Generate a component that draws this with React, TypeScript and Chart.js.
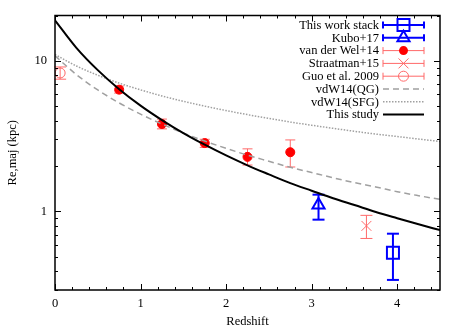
import React, { useEffect, useRef } from 'react';
import { Chart, registerables } from 'chart.js';

Chart.register(...registerables);

// Smooth model curves at fixed redshift steps
const curveZ = [0, 0.25, 0.5, 0.75, 1, 1.25, 1.5, 1.75, 2, 2.25, 2.5, 2.75, 3, 3.25, 3.5, 3.75, 4, 4.25, 4.5];
const thisStudyR = [18.6, 12.2, 8.67, 6.48, 5.04, 4.04, 3.31, 2.77, 2.35, 2.02, 1.76, 1.54, 1.37, 1.22, 1.1, 0.99, 0.9, 0.82, 0.75];
const vdwQGR = [10.8, 8.1, 6.4, 5.25, 4.42, 3.8, 3.31, 2.93, 2.62, 2.36, 2.15, 1.96, 1.81, 1.67, 1.55, 1.45, 1.35, 1.27, 1.2];
const vdwSFGR = [11.0, 9.24, 8.02, 7.11, 6.41, 5.84, 5.38, 5.0, 4.67, 4.39, 4.14, 3.92, 3.73, 3.56, 3.4, 3.26, 3.14, 3.02, 2.91];

// Measurements
const stackZ = [3.95];
const stackR = [0.53];
const stackLo = [0.35];
const stackHi = [0.71];

const kuboZ = [3.08];
const kuboR = [1.1];
const kuboLo = [0.88];
const kuboHi = [1.29];

const vdwZ = [0.75, 1.25, 1.75, 2.25, 2.75];
const vdwR = [6.43, 3.8, 2.84, 2.3, 2.47];
const vdwLo = [6.1, 3.53, 2.66, 2.03, 1.97];
const vdwHi = [6.8, 4.1, 3.01, 2.6, 2.98];

const straZ = [3.64];
const straR = [0.8];
const straLo = [0.66];
const straHi = [0.94];

const guoZ = [0.06];
const guoR = [8.3];
const guoLo = [7.55];
const guoHi = [9.1];

const xTickValues = [0, 1, 2, 3, 4];
const yTickValues = [1, 10];
const yMinorValues = [0.3, 0.4, 0.5, 0.6, 0.7, 0.8, 0.9, 2, 3, 4, 5, 6, 7, 8, 9, 20];

const legendLabels = [
  'This work stack',
  'Kubo+17',
  'van der Wel+14',
  'Straatman+15',
  'Guo et al. 2009',
  'vdW14(QG)',
  'vdW14(SFG)',
  'This study',
];

const BLUE = '#0000ff';
const RED = '#ff0000';
const SALMON = 'rgb(255,105,105)';
const GRAY = '#a0a0a0';
const FONT = '"Liberation Serif", "DejaVu Serif", serif';

const zip = (xs: number[], ys: number[]) => xs.map((x, i) => ({ x, y: ys[i] }));

const line = (ctx: CanvasRenderingContext2D, x1: number, y1: number, x2: number, y2: number) => {
  ctx.beginPath();
  ctx.moveTo(x1, y1);
  ctx.lineTo(x2, y2);
  ctx.stroke();
};

const drawMarker = (ctx: CanvasRenderingContext2D, kind: string, x: number, y: number) => {
  ctx.beginPath();
  if (kind === 'square') {
    ctx.strokeStyle = BLUE;
    ctx.lineWidth = 2;
    ctx.strokeRect(x - 6, y - 6, 12, 12);
  } else if (kind === 'triangle') {
    ctx.strokeStyle = BLUE;
    ctx.lineWidth = 2;
    const r = 7;
    ctx.moveTo(x, y - r);
    ctx.lineTo(x + r * 0.866, y + r / 2);
    ctx.lineTo(x - r * 0.866, y + r / 2);
    ctx.closePath();
    ctx.stroke();
  } else if (kind === 'dot') {
    ctx.fillStyle = RED;
    ctx.arc(x, y, 4.5, 0, Math.PI * 2);
    ctx.fill();
  } else if (kind === 'cross') {
    ctx.strokeStyle = SALMON;
    ctx.lineWidth = 1;
    line(ctx, x - 5, y - 5, x + 5, y + 5);
    line(ctx, x - 5, y + 5, x + 5, y - 5);
  } else if (kind === 'ocircle') {
    ctx.strokeStyle = SALMON;
    ctx.lineWidth = 1;
    ctx.arc(x, y, 5, 0, Math.PI * 2);
    ctx.stroke();
  }
};

const framePlugin = {
  id: 'gnuFrame',
  beforeDatasetsDraw(chart: any) {
    const ctx: CanvasRenderingContext2D = chart.ctx;
    const xs = chart.scales.x;
    const ys = chart.scales.y;
    ctx.save();
    chart.data.datasets.forEach((ds: any) => {
      if (!ds.errLo) return;
      ctx.strokeStyle = ds.errColor;
      ctx.lineWidth = ds.errWidth;
      ds.data.forEach((p: any, i: number) => {
        const px = xs.getPixelForValue(p.x);
        const pLo = ys.getPixelForValue(ds.errLo[i]);
        const pHi = ys.getPixelForValue(ds.errHi[i]);
        line(ctx, px, pLo, px, pHi);
        line(ctx, px - ds.capHalf, pLo, px + ds.capHalf, pLo);
        line(ctx, px - ds.capHalf, pHi, px + ds.capHalf, pHi);
      });
    });
    ctx.restore();
  },
  afterDraw(chart: any) {
    const ctx: CanvasRenderingContext2D = chart.ctx;
    const { left, right, top, bottom } = chart.chartArea;
    const xs = chart.scales.x;
    const ys = chart.scales.y;
    ctx.save();
    ctx.strokeStyle = '#000';
    ctx.lineWidth = 1;
    // ticks (inward, mirrored)
    for (let i = 0; i <= 22; i++) {
      const v = i * 0.2;
      if (v > 4.5 + 1e-9) break;
      const px = Math.round(xs.getPixelForValue(v)) + 0.5;
      const major = Math.abs(v - Math.round(v)) < 1e-6;
      const len = major ? 6 : 3;
      line(ctx, px, bottom, px, bottom - len);
      line(ctx, px, top, px, top + len);
    }
    const yAll = [...yTickValues.map((v) => [v, 6]), ...yMinorValues.map((v) => [v, 3])];
    yAll.forEach(([v, len]) => {
      const py = Math.round(ys.getPixelForValue(v)) + 0.5;
      line(ctx, left, py, left + len, py);
      line(ctx, right, py, right - len, py);
    });
    // border
    ctx.lineWidth = 1.5;
    ctx.strokeRect(left, top, right - left, bottom - top);

    // axis titles
    ctx.fillStyle = '#000';
    ctx.font = `12.5px ${FONT}`;
    ctx.textAlign = 'center';
    ctx.textBaseline = 'middle';
    ctx.fillText('Redshift', (left + right) / 2, 322);
    ctx.save();
    ctx.translate(13, (top + bottom) / 2);
    ctx.rotate(-Math.PI / 2);
    ctx.fillText('Re,maj (kpc)', 0, 0);
    ctx.restore();

    // legend
    const textRight = 379;
    const s1 = 383;
    const s2 = 424;
    const mid = (s1 + s2) / 2;
    const kinds = ['square', 'triangle', 'dot', 'cross', 'ocircle', 'dash', 'dot2', 'solid'];
    legendLabels.forEach((label, i) => {
      const y = 25 + i * 12.8;
      ctx.fillStyle = '#000';
      ctx.textAlign = 'right';
      ctx.textBaseline = 'middle';
      ctx.fillText(label, textRight, y + 0.5);
      const k = kinds[i];
      ctx.setLineDash([]);
      if (i < 5) {
        const c = i < 2 ? BLUE : SALMON;
        ctx.strokeStyle = c;
        ctx.lineWidth = i < 2 ? 2 : 1;
        line(ctx, s1, y, s2, y);
        line(ctx, s1, y - 3.5, s1, y + 3.5);
        line(ctx, s2, y - 3.5, s2, y + 3.5);
        drawMarker(ctx, k, mid, y);
      } else {
        ctx.beginPath();
        if (k === 'dash') {
          ctx.strokeStyle = GRAY;
          ctx.lineWidth = 1.5;
          ctx.setLineDash([6, 4]);
        } else if (k === 'dot2') {
          ctx.strokeStyle = GRAY;
          ctx.lineWidth = 1.5;
          ctx.setLineDash([1.5, 1.5]);
        } else {
          ctx.strokeStyle = '#000';
          ctx.lineWidth = 2;
        }
        line(ctx, s1, y, s2, y);
        ctx.setLineDash([]);
      }
    });
    ctx.restore();
  },
};

export default function App() {
  const canvasRef = useRef<HTMLCanvasElement | null>(null);

  useEffect(() => {
    const canvas = canvasRef.current;
    if (!canvas) return;
    const errExtra = (lo: number[], hi: number[], color: string, width: number, cap: number) => ({
      errLo: lo,
      errHi: hi,
      errColor: color,
      errWidth: width,
      capHalf: cap,
    });
    const chart = new Chart(canvas, {
      type: 'scatter',
      data: {
        datasets: [
          {
            label: 'This study',
            data: zip(curveZ, thisStudyR),
            showLine: true,
            borderColor: '#000',
            borderWidth: 2,
            pointRadius: 0,
            cubicInterpolationMode: 'monotone',
          },
          {
            label: 'vdW14(SFG)',
            data: zip(curveZ, vdwSFGR),
            showLine: true,
            borderColor: GRAY,
            borderWidth: 1.5,
            borderDash: [1.5, 1.5],
            pointRadius: 0,
            cubicInterpolationMode: 'monotone',
          },
          {
            label: 'vdW14(QG)',
            data: zip(curveZ, vdwQGR),
            showLine: true,
            borderColor: GRAY,
            borderWidth: 1.5,
            borderDash: [6, 4],
            pointRadius: 0,
            cubicInterpolationMode: 'monotone',
          },
          {
            label: 'This work stack',
            data: zip(stackZ, stackR),
            pointStyle: 'rect',
            pointRadius: 8.5,
            borderColor: BLUE,
            backgroundColor: 'rgba(0,0,0,0)',
            borderWidth: 2,
            ...errExtra(stackLo, stackHi, BLUE, 2, 6),
          },
          {
            label: 'Kubo+17',
            data: zip(kuboZ, kuboR),
            pointStyle: 'triangle',
            pointRadius: 7,
            borderColor: BLUE,
            backgroundColor: 'rgba(0,0,0,0)',
            borderWidth: 2,
            ...errExtra(kuboLo, kuboHi, BLUE, 2, 6),
          },
          {
            label: 'van der Wel+14',
            data: zip(vdwZ, vdwR),
            pointStyle: 'circle',
            pointRadius: 4.5,
            borderColor: RED,
            backgroundColor: RED,
            borderWidth: 1,
            ...errExtra(vdwLo, vdwHi, SALMON, 1, 5),
          },
          {
            label: 'Straatman+15',
            data: zip(straZ, straR),
            pointStyle: 'crossRot',
            pointRadius: 7,
            borderColor: SALMON,
            backgroundColor: SALMON,
            borderWidth: 1,
            ...errExtra(straLo, straHi, SALMON, 1, 6),
          },
          {
            label: 'Guo et al. 2009',
            data: zip(guoZ, guoR),
            pointStyle: 'circle',
            pointRadius: 5,
            borderColor: SALMON,
            backgroundColor: 'rgba(0,0,0,0)',
            borderWidth: 1,
            ...errExtra(guoLo, guoHi, SALMON, 1, 6),
          },
        ] as any,
      },
      options: {
        animation: false,
        responsive: false,
        maintainAspectRatio: false,
        layout: { padding: { left: 0, top: 13, right: 23, bottom: 0 } },
        plugins: {
          legend: { display: false },
          tooltip: { enabled: false },
        },
        scales: {
          x: {
            type: 'linear',
            min: 0,
            max: 4.5,
            grid: { display: false, drawTicks: false },
            border: { display: false },
            afterBuildTicks: (scale: any) => {
              scale.ticks = xTickValues.map((v) => ({ value: v }));
            },
            afterFit: (scale: any) => {
              scale.height = 41;
            },
            ticks: {
              padding: 6,
              color: '#000',
              font: { family: FONT, size: 12.5 },
              maxRotation: 0,
              autoSkip: false,
              callback: (v: any) => String(v),
            },
          },
          y: {
            type: 'logarithmic',
            min: 0.3,
            max: 20,
            grid: { display: false, drawTicks: false },
            border: { display: false },
            afterBuildTicks: (scale: any) => {
              scale.ticks = yTickValues.map((v) => ({ value: v }));
            },
            afterFit: (scale: any) => {
              scale.width = 55;
            },
            ticks: {
              padding: 8,
              color: '#000',
              font: { family: FONT, size: 12.5 },
              autoSkip: false,
              callback: (v: any) => String(v),
            },
          },
        },
      } as any,
      plugins: [framePlugin],
    });
    return () => chart.destroy();
  }, []);

  return (
    <div style={{ position: 'fixed', left: 0, top: 0, width: 463, height: 331, background: '#fff' }}>
      <canvas ref={canvasRef} width={463} height={331} style={{ width: 463, height: 331 }} />
    </div>
  );
}
